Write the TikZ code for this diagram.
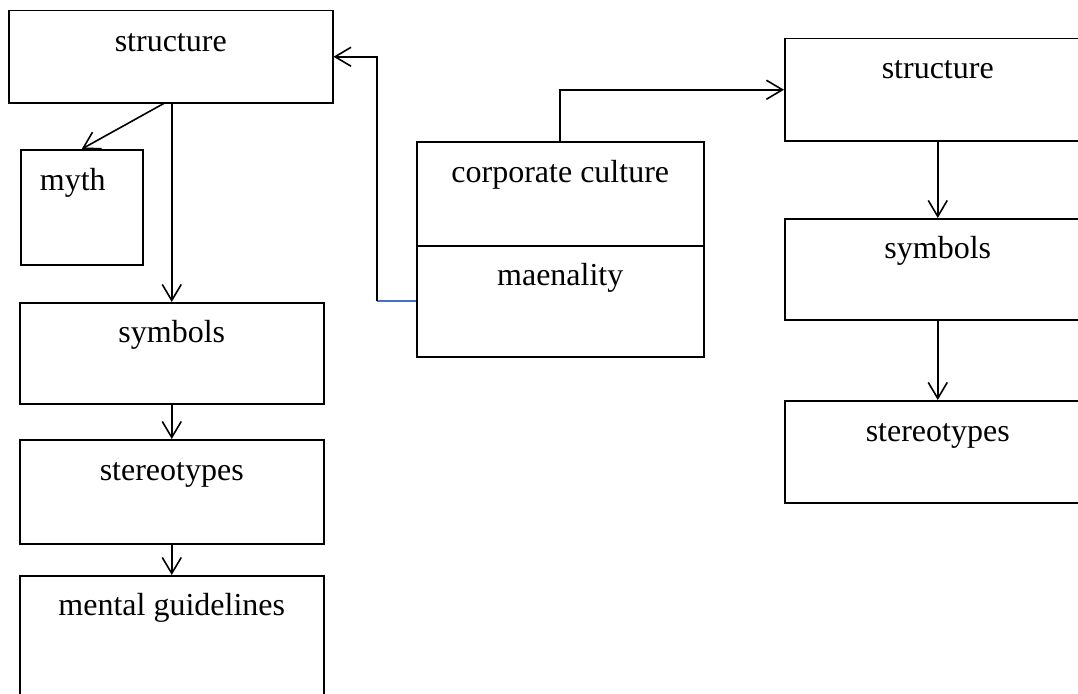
\documentclass[tikz,border=0pt]{standalone}
\usepackage{fontspec}
\setmainfont{Liberation Serif}
\usetikzlibrary{arrows.meta,calc}
\definecolor{linkblue}{RGB}{68,114,196}
\tikzset{
  box/.style={draw=black, line width=1.5pt, rectangle, anchor=north west, inner sep=0pt},
  lbl/.style={anchor=base, inner sep=0pt, font=\fontsize{32}{36}\selectfont},
  arr/.style={draw=black, line width=1.6pt, -{Straight Barb[length=16pt,width=19pt,line width=1.6pt]}},
}
\begin{document}
\begin{tikzpicture}[x=1pt,y=-1pt]
\useasboundingbox (0,0) rectangle (1078,693);
\clip (0,0) rectangle (1078,693);

% left column
\node[box, minimum width=324pt, minimum height=92pt] (sL) at (8,10) {};
\node[box, minimum width=122pt, minimum height=115pt] (myth) at (20,149) {};
\node[box, minimum width=304pt, minimum height=101pt] (symL) at (19,302) {};
\node[box, minimum width=304pt, minimum height=104pt] (stL) at (19,439) {};
\node[box, minimum width=304pt, minimum height=140pt] (mgL) at (19,575) {};

% centre box, split in two parts
\node[box, minimum width=287pt, minimum height=104pt] (cc) at (416,141) {};
\node[box, minimum width=287pt, minimum height=111pt] (mae) at (416,245) {};

% right column
\node[box, minimum width=306pt, minimum height=102pt] (sR) at (784,38) {};
\node[box, minimum width=306pt, minimum height=101pt] (symR) at (784,218) {};
\node[box, minimum width=306pt, minimum height=102pt] (stR) at (784,400) {};

% texts
\node[lbl] (tsL) at ([yshift=-42pt]sL.north) {structure};
\node[lbl] (tmyth) at ([xshift=-9pt,yshift=-41pt]myth.north) {myth};
\node[lbl] (tsymL) at ([yshift=-40pt]symL.north) {symbols};
\node[lbl] (tstL) at ([yshift=-41pt]stL.north) {stereotypes};
\node[lbl] (tmgL) at ([yshift=-40pt]mgL.north) {mental guidelines};
\node[lbl] (tcc) at ([yshift=-41pt]cc.north) {corporate culture};
\node[lbl] (tmae) at ([yshift=-40pt]mae.north) {maenality};
\node[lbl] (tsR) at ([yshift=-40pt]sR.north) {structure};
\node[lbl] (tsymR) at ([yshift=-40pt]symR.north) {symbols};
\node[lbl] (tstR) at ([yshift=-41pt]stR.north) {stereotypes};

% connectors, left column
\draw[arr] ([xshift=-7pt]sL.south) -- (myth.north);
\draw[arr] ([xshift=1pt]sL.south) -- ([xshift=1pt]sL.south |- symL.north);
\draw[arr] (symL.south) -- (stL.north);
\draw[arr] (stL.south) -- (mgL.north);

% connectors from the centre box
\coordinate (bend) at ([xshift=-39pt]mae.west);
\draw[linkblue, line width=1.6pt] (mae.west) -- (bend);
\draw[arr] (bend) |- (sL.east);
\draw[arr] (cc.north) |- (sR.west);

% connectors, right column
\draw[arr] (sR.south) -- (symR.north);
\draw[arr] (symR.south) -- (stR.north);
\end{tikzpicture}
\end{document}
